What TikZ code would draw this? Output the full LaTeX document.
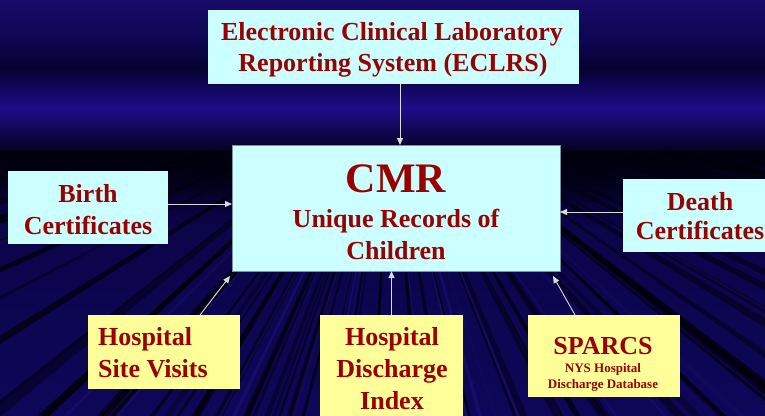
\documentclass[tikz,border=0pt]{standalone}
\usepackage{fontspec}
\setmainfont{Liberation Serif}
\usetikzlibrary{fadings,arrows.meta}

\definecolor{txtred}{HTML}{990000}
\definecolor{boxcyan}{HTML}{CCFFFF}
\definecolor{boxyellow}{HTML}{FFFF99}
\definecolor{cmrframe}{HTML}{8090A0}
\definecolor{skyA}{HTML}{170B68}
\definecolor{skyB}{HTML}{0E0652}
\definecolor{skyC}{HTML}{050130}
\definecolor{skyD}{HTML}{1F0C8A}
\definecolor{skyF}{HTML}{00000E}
\definecolor{floorA}{HTML}{0B0548}
\definecolor{floorB}{HTML}{0E0658}
\definecolor{streak}{HTML}{3020A0}

\tikzfading[name=horizonfade, top color=transparent!0, bottom color=transparent!100]

\tikzset{
  box/.style={inner sep=0pt, outer sep=0pt},
  cyanbox/.style={box, fill=boxcyan},
  yellowbox/.style={box, fill=boxyellow},
  lbl/.style={anchor=base, inner sep=0pt, text=txtred,
              font=\fontsize{26}{31}\selectfont\bfseries},
  small/.style={anchor=base, inner sep=0pt, text=txtred,
              font=\fontsize{13}{15}\selectfont\bfseries},
  arr/.style={draw=white!85!black, line width=0.9pt,
              -{Triangle[length=7pt,width=6pt]}},
}

\begin{document}
\begin{tikzpicture}[x=1pt,y=-1pt]
\useasboundingbox (0,0) rectangle (765,415);

% sky: horizontal bands of blue
\fill[top color=skyA, bottom color=skyB] (0,0) rectangle (765,40);
\fill[top color=skyB, bottom color=skyC] (0,40) rectangle (765,68);
\fill[top color=skyC, bottom color=skyD] (0,68) rectangle (765,108);
\fill[top color=skyD, bottom color=skyF] (0,108) rectangle (765,158);
\fill[top color=skyF, bottom color=floorA] (0,158) rectangle (765,205);
\fill[top color=floorA, bottom color=floorB] (0,205) rectangle (765,415);

% floor: streaks fanning out from the vanishing point
\begin{scope}
  \clip (0,150) rectangle (765,415);
  \pgfmathsetseed{11}
  \foreach \i in {1,...,75}{
    \pgfmathsetmacro\th{3+174*rnd}
    \pgfmathsetmacro\dw{0.35+0.8*rnd}
    \pgfmathsetmacro\op{0.3+0.4*rnd}
    \fill[black, opacity=\op] (390,95)
      -- ({390+1200*cos(\th)},{95+1200*sin(\th)})
      -- ({390+1200*cos(\th+\dw)},{95+1200*sin(\th+\dw)}) -- cycle;
  }
  \foreach \i in {1,...,35}{
    \pgfmathsetmacro\th{3+174*rnd}
    \pgfmathsetmacro\dw{0.2+0.4*rnd}
    \pgfmathsetmacro\op{0.1+0.2*rnd}
    \fill[streak, opacity=\op] (390,95)
      -- ({390+1200*cos(\th)},{95+1200*sin(\th)})
      -- ({390+1200*cos(\th+\dw)},{95+1200*sin(\th+\dw)}) -- cycle;
  }
\end{scope}
\fill[skyF, path fading=horizonfade] (0,150) rectangle (765,225);

% boxes
\node[cyanbox, minimum width=371pt, minimum height=74pt] (eclrs) at (393.5,47) {};
\node[cyanbox, draw=cmrframe, line width=1pt, minimum width=328pt, minimum height=126pt] (cmr) at (396,208) {};
\node[cyanbox, minimum width=160pt, minimum height=73pt] (birth) at (88,207.5) {};
\node[cyanbox, minimum width=167pt, minimum height=73pt] (death) at (706.5,215.5) {};
\node[yellowbox, minimum width=152pt, minimum height=74pt] (site) at (164,352) {};
\node[yellowbox, minimum width=143pt, minimum height=115pt] (index) at (391.5,372.5) {};
\node[yellowbox, minimum width=152pt, minimum height=82pt] (sparcs) at (604,356) {};

% texts
\node[lbl] (eclrsA) at (392,40) {Electronic Clinical Laboratory};
\node[lbl] (eclrsB) at (393,71) {Reporting System (ECLRS)};
\node[lbl, font=\fontsize{42}{48}\selectfont\bfseries] (cmrA) at (396,192) {CMR};
\node[lbl] (cmrB) at (396,227) {Unique Records of};
\node[lbl] (cmrC) at (396,259) {Children};
\node[lbl] (birthA) at (88,202) {Birth};
\node[lbl] (birthB) at (88,234) {Certificates};
\node[lbl] (deathA) at (700,210) {Death};
\node[lbl] (deathB) at (700,239) {Certificates};
\node[lbl, anchor=base west] (siteA) at (98,345) {Hospital};
\node[lbl, anchor=base west] (siteB) at (98,377) {Site Visits};
\node[lbl] (indexA) at (392,345) {Hospital};
\node[lbl] (indexB) at (392,377) {Discharge};
\node[lbl] (indexC) at (392,409) {Index};
\node[lbl] (sparcsA) at (603,354) {SPARCS};
\node[small] (sparcsB) at (603,372) {NYS Hospital};
\node[small] (sparcsC) at (603,388) {Discharge Database};

% connectors
\coordinate (eA) at ([xshift=6.5pt]eclrs.south);
\draw[arr] (eA) -- (eA |- cmr.north);
\coordinate (bA) at ([yshift=3.5pt]birth.east);
\draw[arr] (bA) -- (bA -| cmr.west);
\coordinate (dA) at ([yshift=3.5pt]death.west);
\draw[arr] (dA) -- (dA -| cmr.east);
\draw[arr] (index.north) -- (index.north |- cmr.south);
\draw[arr] ([xshift=36pt]site.north) -- ([shift={(-2pt,-5pt)}]cmr.south west);
\draw[arr] ([xshift=-29pt]sparcs.north) -- ([shift={(-7pt,-5pt)}]cmr.south east);
\end{tikzpicture}
\end{document}
